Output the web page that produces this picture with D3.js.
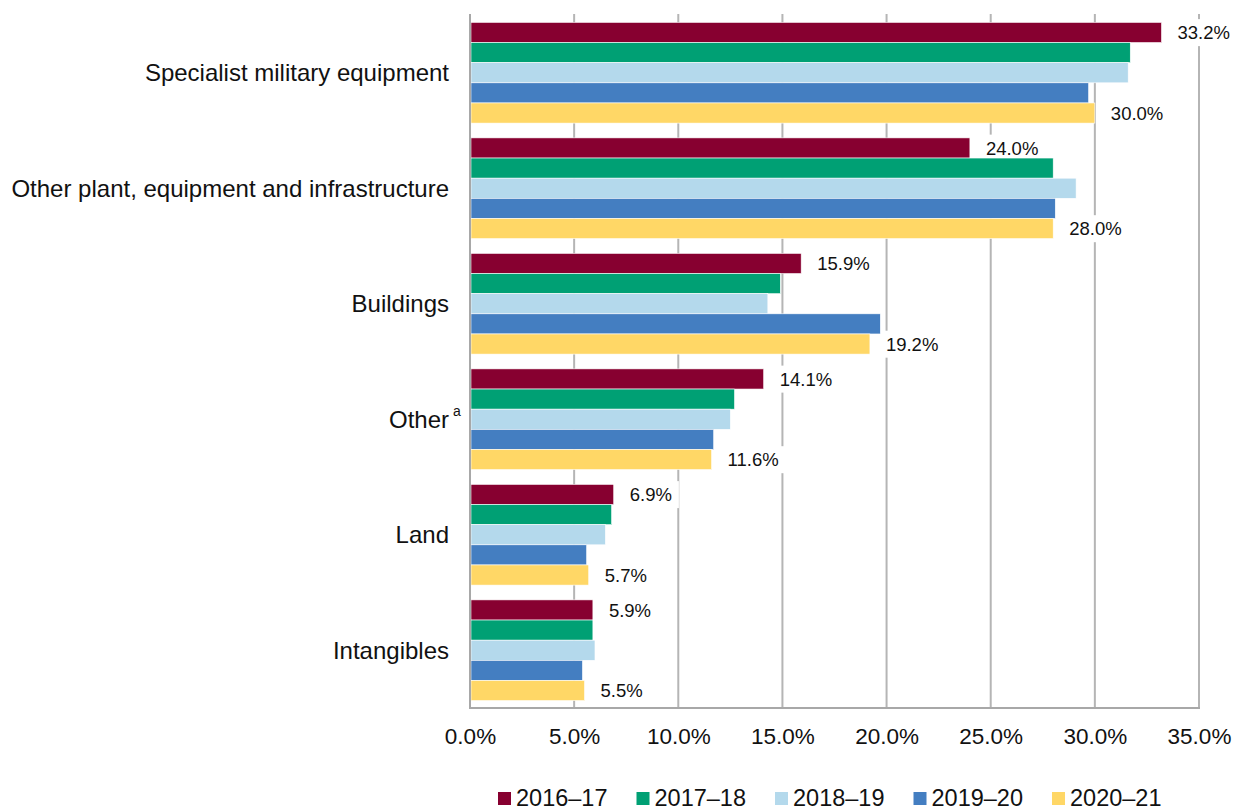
<!DOCTYPE html>
<html>
<head>
<meta charset="utf-8">
<script src="https://cdn.jsdelivr.net/npm/d3@7"></script>
<style>
  html, body { margin: 0; padding: 0; background: #fff; }
  svg { display: block; font-family: "Liberation Sans", Arial, sans-serif; }
</style>
</head>
<body>
<svg id="chart" width="1235" height="807"></svg>
<script>
// Asset categories (top to bottom)
const categories = [
  "Specialist military equipment",
  "Other plant, equipment and infrastructure",
  "Buildings",
  "Other",
  "Land",
  "Intangibles"
];
const footnotes = ["", "", "", "a", "", ""];

// Financial years
const years = ["2016–17", "2017–18", "2018–19", "2019–20", "2020–21"];
const colors = ["#870030", "#00A074", "#B4D9EC", "#447EC1", "#FFD766"];

// Share of total (%) per category, one array per year
const v2016_17 = [33.2, 24.0, 15.9, 14.1, 6.9, 5.9];
const v2017_18 = [31.7, 28.0, 14.9, 12.7, 6.8, 5.9];
const v2018_19 = [31.6, 29.1, 14.3, 12.5, 6.5, 6.0];
const v2019_20 = [29.7, 28.1, 19.7, 11.7, 5.6, 5.4];
const v2020_21 = [30.0, 28.0, 19.2, 11.6, 5.7, 5.5];
const seriesValues = [v2016_17, v2017_18, v2018_19, v2019_20, v2020_21];

// Only the first and last year carry value labels
const labelledSeries = [0, 4];

const xTicks = [0, 5, 10, 15, 20, 25, 30, 35];

const svg = d3.select("#chart");
const margin = { left: 470, right: 36, top: 15, bottom: 99 };
const W = 1235, H = 807;

const x = d3.scaleLinear().domain([0, 35]).range([margin.left, W - margin.right]);
const y0 = d3.scaleBand().domain(categories).range([margin.top, H - margin.bottom])
  .paddingInner(0.128).paddingOuter(0.064);
const y1 = d3.scaleBand().domain(years).range([0, y0.bandwidth()]);

const fmt = d => d.toFixed(1) + "%";

// Vertical gridlines
svg.append("g").selectAll("line").data(xTicks.slice(1)).join("line")
  .attr("x1", d => x(d)).attr("x2", d => x(d))
  .attr("y1", margin.top - 1).attr("y2", H - margin.bottom)
  .attr("stroke", "#B5B5B5").attr("stroke-width", 2);

// Layers: label backing boxes sit under the bars, label text on top
const boxLayer = svg.append("g");
const barLayer = svg.append("g");
const textLayer = svg.append("g");

// Bars
const groups = barLayer.selectAll("g").data(categories).join("g")
  .attr("transform", d => `translate(0,${y0(d)})`);

groups.selectAll("rect").data((c, ci) => years.map((yr, si) => ({ yr, si, v: seriesValues[si][ci] })))
  .join("rect")
  .attr("x", x(0) + 1)
  .attr("y", d => y1(d.yr))
  .attr("width", d => x(d.v) - x(0) - 1)
  .attr("height", y1.bandwidth())
  .attr("fill", d => colors[d.si])
  .attr("stroke", "#fff").attr("stroke-width", 0.6);

// Value labels with white backing boxes
categories.forEach((c, ci) => {
  labelledSeries.forEach(si => {
    const v = seriesValues[si][ci];
    const cy = y0(c) + y1(years[si]) + y1.bandwidth() / 2;
    const t = textLayer.append("text")
      .attr("x", x(v) + 16).attr("y", cy)
      .attr("dy", "0.36em")
      .attr("font-size", 18.5).attr("fill", "#111")
      .text(fmt(v));
    const b = t.node().getBBox();
    boxLayer.append("rect")
      .attr("x", b.x - 7).attr("y", b.y - 3)
      .attr("width", b.width + 14).attr("height", b.height + 6)
      .attr("fill", "#fff");
  });
});

// Axis lines
svg.append("line")
  .attr("x1", x(0)).attr("x2", x(0))
  .attr("y1", margin.top - 1).attr("y2", H - margin.bottom + 1)
  .attr("stroke", "#A8A8A8").attr("stroke-width", 2);
svg.append("line")
  .attr("x1", x(0) - 1).attr("x2", x(35) + 1)
  .attr("y1", H - margin.bottom).attr("y2", H - margin.bottom)
  .attr("stroke", "#A8A8A8").attr("stroke-width", 2);

// X tick labels
const xAxis = d3.axisBottom(x).tickValues(xTicks).tickFormat(fmt).tickSize(0).tickPadding(20);
const gx = svg.append("g").attr("transform", `translate(0,${H - margin.bottom})`).call(xAxis);
gx.select(".domain").remove();
gx.selectAll("text").attr("font-size", 22.5).attr("fill", "#111")
  .attr("font-family", "'Liberation Sans', Arial, sans-serif");

// Category labels
const catLabels = svg.append("g").selectAll("g").data(categories).join("g")
  .attr("transform", d => `translate(449,${y0(d) + y0.bandwidth() / 2})`);
catLabels.append("text")
  .attr("text-anchor", "end").attr("dy", "0.36em")
  .attr("font-size", 24).attr("fill", "#111")
  .text(d => d);
catLabels.append("text")
  .attr("x", 4).attr("dy", "-0.25em")
  .attr("font-size", 14).attr("fill", "#111")
  .text((d, i) => footnotes[i]);

// Legend
const legendItems = svg.append("g").attr("transform", "translate(498,798)")
  .selectAll("g").data(years).join("g")
  .attr("transform", (d, i) => `translate(${i * 138.5},0)`);
legendItems.append("rect")
  .attr("x", 0).attr("y", -6).attr("width", 13).attr("height", 13)
  .attr("fill", (d, i) => colors[i]);
legendItems.append("text")
  .attr("x", 18).attr("y", 8)
  .attr("font-size", 23.5).attr("fill", "#111")
  .text(d => d);
</script>
</body>
</html>
